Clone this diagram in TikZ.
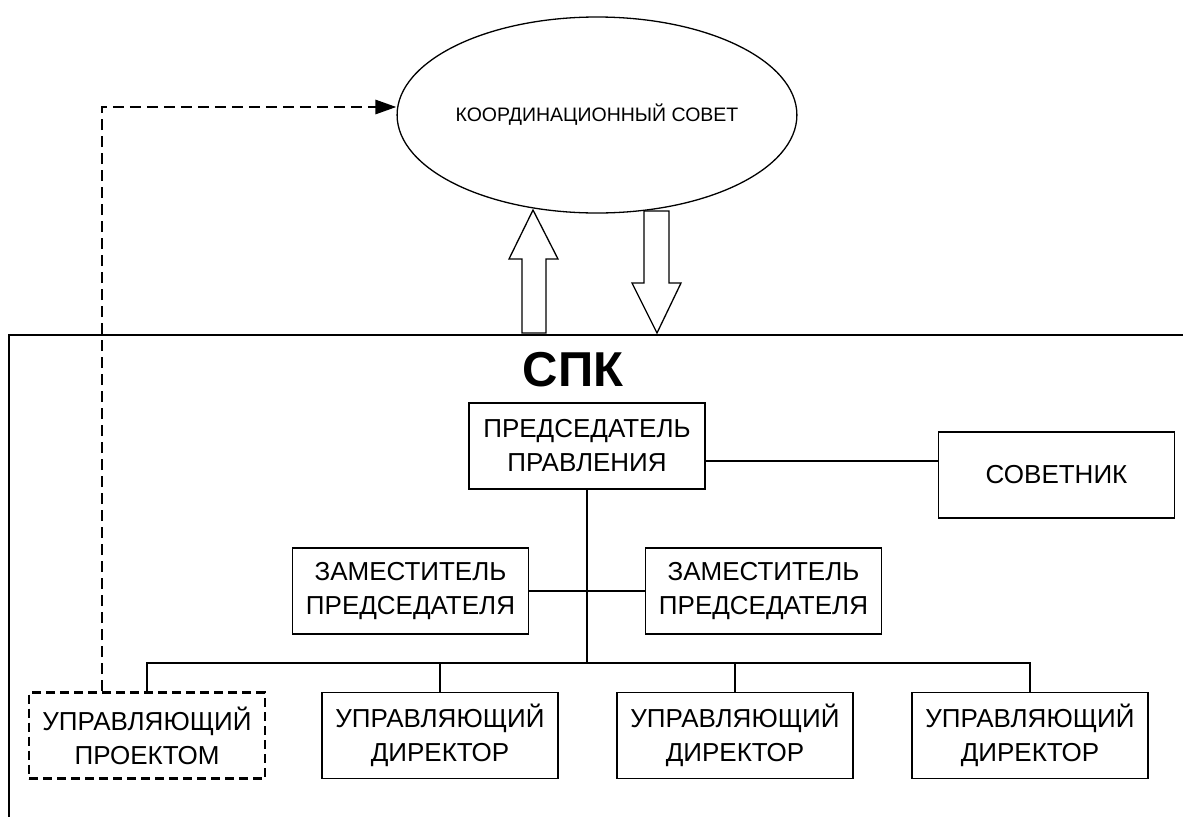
\documentclass[tikz,border=0pt]{standalone}
\usepackage{fontspec}
\setmainfont{Liberation Sans}
\usetikzlibrary{shapes.geometric,arrows.meta}

\tikzset{
  unitbox/.style={draw, line width=1.3pt, rectangle, minimum width=236pt, minimum height=86pt,
    inner sep=0pt, align=center, font=\fontsize{26}{34}\selectfont},
  dashbox/.style={unitbox, line width=2.8pt, dash pattern=on 9pt off 5pt},
  link/.style={line width=1.3pt},
  dashlink/.style={line width=2.8pt, dash pattern=on 11pt off 6pt},
  blockarrow/.style={draw, line width=1.3pt, fill=white, line join=miter}
}

\begin{document}
\begin{tikzpicture}[x=1pt, y=-1pt]
  \useasboundingbox[fill=white] (0,0) rectangle (1183,817);

  % coordination council
  \node[ellipse, draw, line width=1.3pt, minimum width=374pt, minimum height=196pt, inner sep=0pt,
        font=\fontsize{19.5}{23}\selectfont] (council) at (597,115) {КООРДИНАЦИОННЫЙ СОВЕТ};

  % organisation frame
  \coordinate (frameR) at (1183,335);
  \coordinate (frameC) at (9,335);
  \coordinate (frameB) at (9,817);
  \draw[link] (frameR) -- (frameC) -- (frameB);

  % block arrows between the council and the organisation
  \draw[blockarrow] (522,333) -- (522,259) -- (509,259) -- (533,210) -- (558,259) -- (546,259) -- (546,333) -- cycle;
  \draw[blockarrow] (644,211) -- (669,211) -- (669,283) -- (681,283) -- (657,333) -- (632,283) -- (644,283) -- cycle;

  % title
  \node[font=\bfseries\fontsize{49}{52}\selectfont] (title) at (573,370) {СПК};

  % boxes
  \node[unitbox] (pres) at (587,446) {ПРЕДСЕДАТЕЛЬ\\ПРАВЛЕНИЯ};
  \node[unitbox] (adv) at (1056.5,475) {СОВЕТНИК};
  \node[unitbox] (depL) at (410.5,591) {ЗАМЕСТИТЕЛЬ\\ПРЕДСЕДАТЕЛЯ};
  \node[unitbox] (depR) at (763.5,591) {ЗАМЕСТИТЕЛЬ\\ПРЕДСЕДАТЕЛЯ};
  \node[dashbox] (pm) at (147,735.5) {УПРАВЛЯЮЩИЙ\\ПРОЕКТОМ};
  \node[unitbox] (md1) at (440,735.5) {УПРАВЛЯЮЩИЙ\\ДИРЕКТОР};
  \node[unitbox] (md2) at (735,735.5) {УПРАВЛЯЮЩИЙ\\ДИРЕКТОР};
  \node[unitbox] (md3) at (1030,735.5) {УПРАВЛЯЮЩИЙ\\ДИРЕКТОР};

  % connectors
  \coordinate (advline) at (0,461);
  \coordinate (bus) at (0,663);
  \draw[link] (pres.east |- advline) -- (adv.west |- advline);
  \draw[link] (pres.south) -- (pres.south |- bus);
  \draw[link] (depL.east) -- (depR.west);
  \draw[link] (pm.north) -- (pm.north |- bus) -- (md3.north |- bus) -- (md3.north);
  \draw[link] (md1.north) -- (md1.north |- bus);
  \draw[link] (md2.north) -- (md2.north |- bus);

  % project manager reports to the council
  \draw[dashlink, -{Triangle[length=21pt, width=14pt]}]
    ([xshift=-45pt]pm.north) |- ([yshift=8pt]council.west);
\end{tikzpicture}
\end{document}
